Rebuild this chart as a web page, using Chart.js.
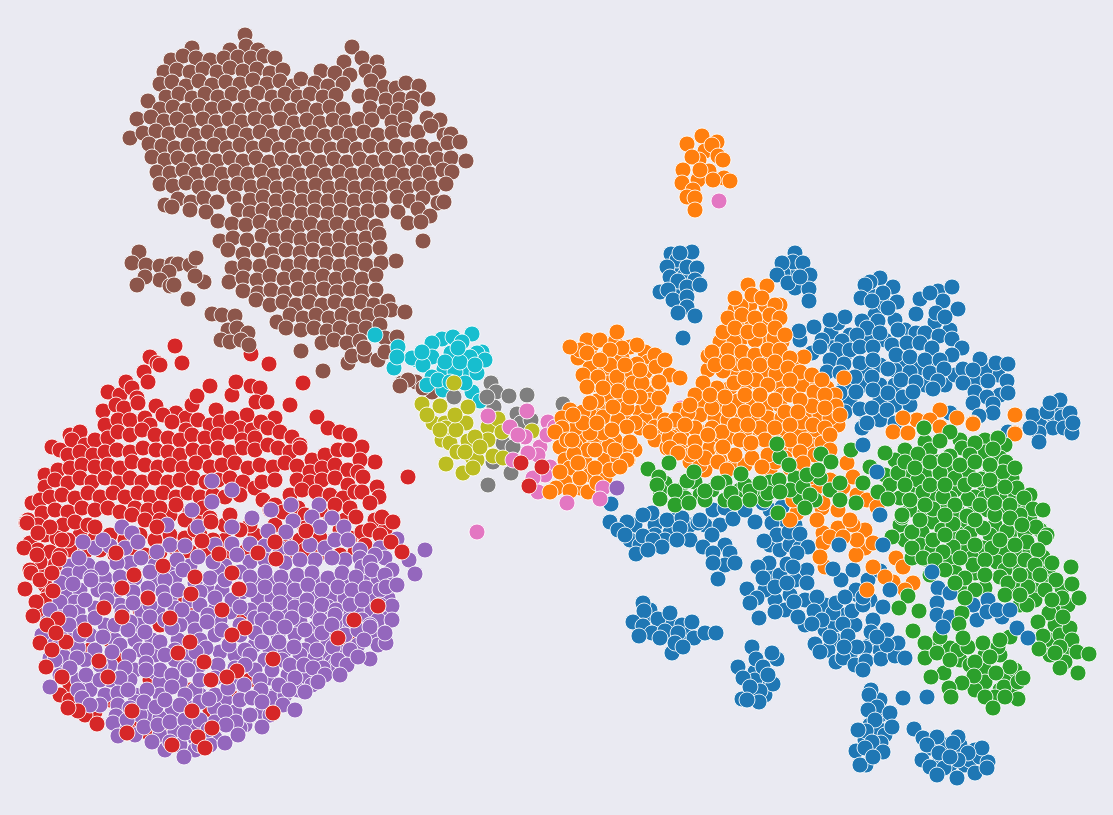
<!DOCTYPE html>
<html>
<head>
<meta charset="utf-8">
<title>Embedding scatter</title>
<script src="https://cdn.jsdelivr.net/npm/chart.js@4"></script>
<style>
html,body{margin:0;padding:0;background:#eaeaf2;overflow:hidden}
canvas{display:block}
</style>
</head>
<body>
<canvas id="chart" width="1113" height="815"></canvas>
<script>
// values, flat x,y lists
const brown = [245,35,192,48,352,47,230,50,246,46,258,50,171,60,183,56,196,58,210,60,224,58,238,57,251,58,264,56,275,58,362,58,344,62,377,62,
164,72,177,70,190,72,203,69,217,72,230,68,243,71,257,69,270,73,283,70,321,71,335,73,350,75,366,71,379,72,
160,84,172,82,186,86,199,81,212,85,226,82,240,84,253,80,267,84,280,81,293,86,301,79,315,83,328,86,343,84,371,81,384,87,396,88,406,83,419,86,
166,97,179,94,192,98,205,94,218,97,232,94,245,97,258,93,272,97,285,94,298,97,310,94,323,97,336,95,359,96,372,95,386,100,400,99,413,98,428,99,
148,101,160,109,173,107,186,110,199,106,212,109,225,107,239,110,252,106,265,109,278,106,291,110,304,107,317,110,330,107,343,109,370,108,384,112,398,110,411,107,
137,119,151,117,164,121,177,119,190,122,203,119,216,122,229,119,242,122,255,119,268,122,281,119,294,123,307,120,320,123,333,120,346,122,359,119,372,120,392,122,405,118,427,118,440,120,
130,138,143,133,156,131,169,134,182,131,195,135,208,132,221,135,234,132,247,135,260,132,273,136,286,133,299,136,312,133,325,136,338,133,351,135,364,132,378,135,392,133,405,130,418,132,431,126,444,135,451,134,
149,144,162,146,175,148,188,145,201,148,214,145,227,148,240,145,253,148,266,145,279,149,292,146,305,149,318,146,331,149,344,146,357,149,370,146,383,149,396,146,409,149,422,146,435,149,448,143,460,142,
152,157,165,160,178,158,191,161,204,158,217,161,230,158,243,161,256,158,269,162,282,159,295,162,308,159,321,162,334,159,347,162,360,159,373,162,386,159,399,162,412,159,425,162,438,159,451,158,466,161,
157,172,170,173,183,170,196,174,209,171,222,174,235,171,248,174,261,171,274,175,287,172,300,175,313,172,326,175,339,172,352,175,365,172,378,175,391,172,404,175,417,172,430,174,443,170,452,172,
160,184,173,186,186,183,199,187,212,184,225,187,238,184,251,187,264,184,277,188,290,185,303,188,316,185,329,188,342,185,355,188,368,185,381,188,394,185,407,188,420,185,433,188,446,184,
165,205,178,199,191,202,204,198,217,202,234,198,250,200,263,197,276,201,289,198,302,201,315,198,328,201,341,198,354,201,367,198,380,198,397,197,410,201,423,198,438,203,444,202,
172,207,190,210,206,212,238,210,250,213,263,210,276,214,289,211,302,214,315,211,328,214,341,211,355,214,368,211,382,211,398,212,418,209,430,216,
218,221,232,224,246,225,260,222,272,227,285,224,298,227,311,224,324,227,337,224,350,227,363,224,376,226,408,223,421,222,
220,241,233,238,247,240,262,236,275,240,288,237,301,240,314,237,327,240,340,237,353,240,366,238,379,234,423,241,
228,250,243,254,258,250,272,254,286,250,300,253,313,250,326,254,339,250,352,253,365,250,380,248,396,261,
139,252,132,263,146,265,160,266,172,264,178,264,190,265,196,258,204,282,195,276,169,272,160,280,145,277,137,285,170,286,174,285,188,299,
232,268,245,265,260,266,274,262,288,266,301,263,314,266,327,263,340,266,353,263,366,265,381,263,
229,282,243,278,257,280,270,276,284,279,297,276,310,279,323,276,336,279,349,276,362,279,376,275,
243,291,258,293,271,290,285,293,298,289,311,292,324,289,337,292,350,289,363,292,376,290,
256,300,270,305,283,302,296,305,309,302,322,305,335,302,348,305,361,302,374,305,388,301,391,310,
212,314,222,315,235,316,277,322,290,315,303,318,316,315,329,318,342,315,355,318,368,315,381,312,405,312,
228,330,237,328,248,333,286,328,301,330,314,328,327,331,340,328,353,331,366,328,380,325,
221,340,230,342,241,340,249,345,301,351,322,343,334,340,347,343,360,341,385,338,397,337,
348,363,352,356,365,356,378,360,385,352,397,357,323,371,364,348,402,383,416,382,408,380,432,392,423,388,400,386];

const redFill = [80,535,95,538,110,535,125,540,140,535,155,540,170,535,185,538,200,535,225,540,255,535,270,540,285,535,300,540,320,538,335,540,350,538,
70,550,85,552,100,550,115,555,130,550,145,555,160,552,175,548,190,552,205,550,225,555,245,552,265,558,285,555,305,550,320,553,340,555,355,552,
45,575,62,572,75,568,90,572,45,585,60,590,42,612,48,595,50,640,62,660,70,685,60,695,80,700,95,712,110,700,150,735,130,725,172,735,
100,590,115,600,140,610,175,600,190,615,215,620,240,615,260,600,300,620,340,600,360,620,372,615,365,635,345,630,320,640,160,625,110,640,90,650,75,645,120,660,150,680,190,690,230,695,210,710,250,680,
150,515,170,515,200,520,225,525,250,525,275,525,290,515,330,515,345,520,375,520,385,530];

const red = [108,392,120,395,126,382,132,388,144,372,148,382,137,398,150,357,157,363,160,365,175,346,182,363,251,354,269,364,303,383,
103,411,116,405,124,408,138,403,156,406,176,413,186,418,192,405,197,396,210,386,216,410,232,395,236,382,251,386,260,388,256,402,267,402,247,415,
70,435,80,432,105,425,118,420,130,420,145,418,150,425,163,415,172,422,186,430,198,420,210,425,220,422,232,418,240,428,252,430,275,418,261,422,290,405,
52,447,60,450,72,440,85,445,95,440,108,438,118,432,130,435,142,430,155,435,168,438,180,440,192,435,205,438,218,435,230,432,242,440,255,438,268,428,280,432,292,437,300,445,317,417,328,428,340,432,350,435,362,447,
68,455,80,452,93,455,105,452,117,450,130,452,143,448,156,450,168,452,180,455,193,450,205,452,218,448,230,452,243,448,255,450,268,445,278,448,290,452,300,448,312,460,325,455,338,450,348,450,375,462,360,460,
45,475,58,470,70,468,82,465,95,467,108,465,120,468,132,462,145,465,158,467,170,465,183,468,196,463,210,467,222,465,235,463,248,468,260,465,273,467,285,463,297,466,310,472,322,468,335,465,348,470,358,472,408,477,
32,503,45,487,55,480,68,483,80,478,92,482,105,478,118,483,130,478,142,482,155,478,168,482,180,480,193,478,206,482,218,480,230,478,243,482,255,488,262,482,275,480,297,480,310,482,322,480,335,478,348,485,363,477,377,487,
40,500,50,497,62,495,75,498,88,493,100,497,113,493,125,497,138,493,150,497,163,493,176,497,188,493,200,497,213,495,225,497,240,495,263,500,275,505,290,495,302,490,316,492,330,495,343,498,355,492,362,492,379,497,370,503,
28,520,42,513,55,510,68,512,82,508,95,510,108,508,120,512,135,508,148,510,160,508,176,505,190,512,203,508,270,510,283,512,298,508,305,515,320,510,335,505,350,508,
26,523,38,525,50,528,63,525,75,522,88,525,132,515,145,520,160,520,185,520,210,518,230,515,305,528,356,517,382,517,393,522,362,532,370,530,
30,543,45,535,57,538,68,540,195,530,213,540,240,530,340,530,365,545,380,535,
38,550,50,552,60,555,55,565,40,562,30,570,45,600,60,610,50,630,70,700,85,715,140,720,160,730,180,735,330,640,350,640,375,625,380,595];

const purpleFill = [95,548,110,546,125,548,170,545,185,546,215,545,250,544,265,546,280,548,310,545,325,548,360,550,380,548,
70,566,88,565,130,563,155,565,170,570,190,566,225,566,250,562,265,560,285,563,315,560,345,560,360,558,385,558,
68,575,80,572,105,578,135,578,158,580,175,578,195,583,218,570,240,572,258,582,272,582,290,582,303,580,318,582,335,580,350,582,365,578,378,578,
55,592,68,595,80,590,98,590,118,590,148,588,170,598,190,600,208,590,222,590,242,592,258,598,272,598,288,598,315,598,330,598,345,598,358,595,373,598,388,598,
58,615,75,602,95,608,120,605,142,612,158,612,175,608,192,618,215,610,230,612,250,610,272,610,285,612,300,602,315,612,328,607,343,612,358,612,372,610,385,612,
48,622,62,622,78,612,105,625,122,612,138,625,180,625,195,630,220,620,240,625,255,618,270,620,300,622,315,628,340,625,362,620,378,620,
52,645,70,640,90,635,115,640,135,640,152,640,178,640,200,640,215,635,240,635,260,630,278,635,295,635,312,640,328,640,350,628,372,635,378,645,
60,645,78,648,95,650,120,645,140,650,155,655,175,650,190,655,220,652,235,655,255,645,270,650,285,650,305,650,325,655,340,652,358,645,
65,665,85,660,110,665,135,670,155,672,175,660,200,665,218,665,235,668,265,660,282,660,300,655,315,658,332,662,350,658,
60,675,78,680,90,682,110,680,130,680,160,682,180,682,200,695,215,678,235,682,255,670,270,678,288,675,305,680,335,665,
90,690,105,695,135,695,160,695,195,690,225,700,245,695,275,695,298,690,312,685,
100,705,135,702,150,715,172,712,190,708,215,708,235,712,262,712,272,698,285,695,
125,730,140,715,160,718,178,725,195,728,215,722,245,725,270,715,
135,735,160,735,175,732,195,738,215,738,165,750,180,745,195,750,210,745,240,728];

const purple = [212,481,232,490,212,502,291,505,319,505,271,510,252,518,293,521,312,517,332,518,344,527,320,527,192,510,198,527,122,527,132,533,167,525,232,527,268,531,286,532,335,540,348,540,83,542,103,540,138,542,157,552,232,544,291,548,79,558,102,568,117,563,141,558,177,560,198,557,213,562,237,555,300,560,332,558,375,555,397,539,425,550,409,560,415,574,392,570,362,567,370,562,
91,577,120,577,150,572,165,580,183,570,210,578,225,580,250,577,265,572,281,577,297,575,312,573,328,578,342,573,356,577,372,570,385,575,
61,583,73,584,91,580,106,590,133,592,163,592,178,590,200,592,215,598,232,600,250,590,265,587,280,590,295,590,308,585,322,590,338,587,352,590,366,588,380,590,392,585,386,587,397,585,
60,602,85,600,107,600,133,603,150,605,165,600,182,610,200,605,240,607,265,610,280,603,295,607,307,600,322,605,336,610,350,605,362,600,380,605,392,606,
50,610,70,612,83,622,95,618,115,625,130,622,150,617,165,620,208,615,222,630,262,620,277,618,292,618,306,610,320,620,335,615,350,620,370,625,392,620,
42,635,60,632,69,625,80,635,103,637,128,630,145,632,160,642,172,628,207,622,255,633,270,628,285,627,305,630,322,633,332,625,345,635,358,630,370,627,386,643,385,633,
50,658,64,657,77,658,112,652,129,656,147,650,165,655,206,648,229,645,245,650,262,642,279,642,294,647,317,650,333,647,350,650,364,640,370,659,
55,660,70,668,86,675,100,665,125,668,146,663,160,670,185,668,196,652,250,655,272,670,290,665,304,665,323,668,338,660,347,665,358,657,
50,687,78,690,100,680,120,678,146,670,172,675,188,670,245,665,260,680,279,685,295,678,313,668,325,675,340,675,
82,698,90,705,118,693,128,690,147,690,172,687,185,695,200,680,215,695,228,688,244,685,261,690,289,690,305,692,318,682,
118,705,116,716,130,708,144,702,156,707,165,700,180,705,200,702,209,699,225,712,240,700,252,698,262,702,283,705,295,710,
113,723,127,720,144,727,158,725,170,722,185,720,200,720,236,722,250,715,262,727,226,725,
118,736,152,742,170,742,185,733,208,730,225,743,238,735,184,757,199,745];

const redTop = [95,527,116,553,157,527,211,522,202,541,219,554,275,542,306,531,391,542,402,552,258,553,276,559,163,566,134,575,195,577,232,573,239,589,122,588,148,598,191,594,104,608,122,617,222,610,378,606,354,620,245,628,232,635,85,630,190,642,66,642,178,653,338,638,99,661,204,662,273,659,237,671,227,677,211,680,108,677,46,667,62,677,78,711,68,708,97,724,127,733,172,745,198,737,205,748,212,728,273,713,132,711,192,711,170,618,
24,548,37,555,59,559,31,573,40,580,52,573,25,589,53,591,36,602,33,616,58,619,47,625,40,643,52,650,56,633,27,523,62,540,50,527,38,533];

const cyan = [472,334,442,339,453,337,462,342,482,352,398,347,375,335,394,368,432,343,451,353,432,357,417,360,412,358,423,365,444,369,468,371,432,377,477,353,485,360,472,392,480,401,427,385,455,372,477,373,470,357,465,383,443,390,397,357,422,352,445,362,460,362,458,348,438,380,450,382,475,365];

const gray = [491,383,496,392,509,396,527,395,454,397,494,407,517,414,521,423,531,420,563,404,503,453,503,443,513,447,511,473,488,485,493,462,487,397];

const olive = [454,383,422,404,440,406,468,407,433,423,445,423,446,428,466,423,488,427,498,419,532,431,468,441,442,440,450,443,472,457,493,456,446,464,463,473,477,460,488,440,427,415,456,430,475,437,457,452,480,447,473,468,503,458,502,432,455,415,440,430,465,452];

const pink = [488,416,527,411,510,427,525,437,548,422,540,447,538,455,550,467,545,475,533,478,538,492,513,460,528,453,547,435,555,427,663,377,681,408,518,435];

const redMid = [521,463,529,486,542,467];

const blueUpper = [675,270,685,275,680,295,795,270,790,275,800,340,835,345,850,335,870,340,885,340,905,330,935,322,950,330,875,315,870,295,885,305,895,320,905,365,920,368,935,365,845,355,865,370,880,365,895,370,910,372,925,385,945,385,955,375,975,380,998,375,1000,395,985,370,845,385,865,385,880,385,895,385,850,400,880,400,895,405,910,405,845,412,880,420,1055,420,1040,425,
692,252,671,254,677,260,667,267,687,267,697,268,670,277,678,281,695,280,687,287,700,285,660,292,668,290,673,300,687,297,687,307,678,313,695,316,683,338,680,253,
795,253,793,262,783,273,782,263,803,263,810,275,795,288,809,289,809,301,777,275,788,283,800,277,
799,331,814,327,831,332,838,323,845,317,830,320,842,341,822,340,812,353,820,347,880,278,870,282,865,285,893,287,883,293,861,298,872,301,897,302,888,308,862,321,878,321,920,299,938,291,952,287,943,301,930,293,916,314,936,313,958,309,945,317,898,330,916,333,925,333,939,336,952,339,962,348,867,328,857,335,880,333,
837,350,850,350,860,347,873,347,892,345,907,343,920,343,932,348,952,355,830,360,844,364,860,363,873,360,896,355,910,357,925,360,940,360,827,372,840,373,855,377,872,377,888,369,901,380,916,382,930,373,944,369,938,381,963,369,980,359,996,363,1008,364,973,370,988,381,1007,381,963,383,975,392,1008,393,987,397,973,403,993,404,993,413,979,416,
840,393,856,392,873,390,888,393,903,397,913,392,933,389,860,409,872,408,887,410,895,423,866,423,862,428,950,413,
1033,415,1057,407,1047,412,1062,417,1070,413,1053,428,1064,428,1072,433,1039,433,1039,442,1030,428,1073,423,1060,400,1050,403,1008,432];

const orangeFill = [592,345,615,342,630,347,645,352,578,358,593,358,605,358,622,358,648,362,662,365,590,368,605,372,628,372,645,372,670,375,592,385,608,383,625,385,650,390,662,390,610,397,622,400,650,400,570,410,600,408,615,413,640,412,655,412,570,420,590,415,610,425,625,420,645,420,570,435,580,438,595,440,615,440,640,428,660,432,672,428,560,447,575,445,600,450,635,450,565,460,585,462,605,460,618,458,570,468,590,475,605,478,565,482,580,488,
735,310,750,305,780,305,740,322,752,325,762,322,775,322,742,338,765,338,782,342,720,342,735,355,748,360,770,358,782,358,795,365,708,370,735,372,750,372,765,372,782,372,795,382,805,375,815,385,827,388,712,398,730,388,745,385,760,385,778,385,782,395,812,398,835,395,705,405,720,405,735,410,752,402,768,405,780,405,810,412,820,415,838,425,680,410,700,415,715,418,728,420,742,418,755,418,768,418,782,418,795,420,670,428,682,432,700,432,712,428,735,432,745,432,760,435,772,435,785,432,800,432,815,432,655,440,668,445,690,448,700,450,715,440,728,438,750,445,785,450,795,448,812,445,825,455,705,470,690,462,735,465,745,465,770,470,775,462,790,468,700,465];

const orange = [702,136,687,144,717,142,705,151,712,145,699,160,718,156,692,157,723,160,683,170,709,171,698,180,682,183,724,178,730,181,693,190,687,197,695,198,695,210,713,180,700,170,
617,332,587,340,600,340,580,350,587,353,637,345,622,348,610,350,655,355,637,364,656,367,610,365,583,375,598,377,617,377,633,383,658,382,618,391,642,383,597,401,583,412,627,408,648,406,659,398,562,418,576,428,562,428,555,432,603,417,618,420,635,423,655,427,665,420,567,440,588,450,574,454,609,446,625,450,628,460,560,472,580,478,595,468,556,488,570,491,588,492,550,492,610,470,597,483,578,463,603,433,590,433,583,423,597,423,573,415,590,403,627,427,613,407,640,397,630,397,603,388,587,387,570,347,667,448,672,437,665,360,600,360,625,365,640,370,615,450,595,450,572,440,612,430,
748,285,767,286,741,306,766,306,766,322,734,342,755,340,774,338,723,332,708,356,721,355,737,364,723,371,804,357,776,374,756,380,734,383,717,388,703,383,680,378,659,382,844,378,802,385,814,392,738,401,712,408,775,400,812,406,836,406,688,413,675,420,830,418,802,422,760,428,813,425,722,432,708,435,729,410,669,438,752,443,822,443,893,432,908,433,957,418,973,423,940,410,917,420,930,420,903,418,940,427,1015,415,1015,433,
735,298,752,295,762,298,775,305,728,318,742,315,755,318,770,315,780,318,735,328,748,332,760,330,775,328,785,335,712,352,728,350,742,352,755,355,768,350,780,350,790,358,715,365,728,362,745,365,760,365,775,362,788,368,800,372,812,375,822,380,745,378,768,385,790,380,695,395,710,395,725,397,745,395,760,395,790,395,800,400,825,395,745,412,758,410,785,412,798,412,825,408,690,405,695,428,685,425,735,425,748,425,775,428,790,425,825,428,840,415,650,432,665,425,680,440,695,442,710,448,722,448,740,440,765,440,778,443,790,440,805,440,830,435,680,452,690,455,705,458,720,460,735,455,752,458,768,455,785,458,800,452,815,455,830,450,
670,448,630,442,627,460,620,467,718,462,762,467,708,435,751,443,723,447,695,452,678,453,727,470,924,428,973,424,1015,434];

const blueLowerFill = [635,525,655,525,675,520,690,525,655,535,670,533,665,540,630,540,640,545,705,525,720,525,725,545,770,510,785,520,795,525,770,545,780,550,790,545,800,548,770,575,780,575,795,580,775,600,765,590,790,595,805,600,785,610,805,625,825,605,845,615,855,625,835,640,850,655,870,645,880,650,825,630,835,625,858,595,870,600,650,610,660,625,650,625,670,625,682,625,672,635,685,635,645,620,755,672,762,680,750,695,765,695,755,680,880,700,880,715,870,725,880,730,865,740,875,750,885,735,930,748,945,745,940,760,950,765,965,765,960,745,970,760,975,750];

const blueLower = [611,504,610,522,627,522,652,513,643,515,667,520,682,518,698,523,680,528,618,530,625,535,643,536,653,540,690,540,712,535,677,540,662,547,636,554,648,550,703,547,713,553,730,553,725,565,735,563,718,579,713,563,700,520,
713,510,725,508,733,519,745,510,763,503,755,522,782,507,772,523,777,535,764,541,789,532,800,534,808,547,787,564,769,563,758,567,763,578,747,589,757,598,775,587,787,583,807,570,797,553,793,567,807,583,817,597,794,602,775,612,759,618,750,603,798,617,814,611,833,613,836,603,852,611,863,605,873,620,887,630,883,607,822,620,812,624,843,624,848,636,871,632,865,648,841,580,856,590,868,580,880,571,853,570,845,597,863,597,815,644,828,650,820,652,836,662,843,658,855,665,866,661,863,670,881,659,895,656,905,658,898,643,887,645,877,637,857,647,830,637,844,647,
643,603,644,611,633,622,658,619,670,613,643,626,652,633,639,636,665,631,678,633,692,622,694,638,705,633,716,633,672,653,675,643,683,647,660,638,
752,647,756,659,777,659,772,653,763,667,738,667,773,684,743,678,760,691,742,699,759,702,750,687,747,700,768,675,
871,690,869,695,903,698,927,697,877,707,868,710,890,713,875,720,892,727,866,731,858,730,881,743,872,742,856,751,865,748,883,752,866,765,860,765,873,757,
914,729,923,738,937,737,958,737,953,743,927,745,939,753,922,760,930,767,944,768,957,778,937,775,975,773,980,757,988,762,982,748,968,753,958,760,950,757,987,768];

const orangeLower = [822,508,838,528,865,530,865,548,856,555,823,533,823,543,825,567,896,558,893,582,913,583,903,567,885,577,867,590,873,567,853,525,797,513,790,520,793,500,800,477,817,487,830,480,847,463,857,495,867,500,877,507,837,493,843,487,810,477,823,503,803,463,853,477,838,510,850,520,873,543,820,557,817,520,830,537,857,540,843,537,905,590];

const greenFill = [925,442,960,440,985,440,1005,445,905,450,930,450,962,448,985,452,1000,458,895,460,918,465,938,462,885,475,910,475,925,475,950,470,968,472,990,472,1012,478,890,485,918,490,938,487,955,490,985,488,998,482,1012,495,900,498,918,500,932,498,950,498,975,497,985,498,1000,497,1030,495,910,510,925,512,945,508,958,512,975,510,988,510,1003,512,1015,508,1028,510,900,525,932,522,963,525,975,528,995,525,1018,525,1030,520,905,540,922,532,942,530,957,533,970,533,990,535,1010,533,1025,533,1040,530,920,545,932,550,965,550,983,548,1003,550,1020,550,1030,552,912,558,950,560,972,558,997,562,1018,565,1040,560,930,575,955,572,975,573,1005,570,1030,575,1048,570,960,590,985,588,1015,585,1035,590,1050,582,1062,588,1020,605,1035,600,1055,610,1068,605,
665,483,680,490,695,482,700,495,712,490,725,482,740,490,755,490,770,482,660,490,685,498,705,500,725,500,745,485,765,500,795,478,820,478,830,490,815,500,800,498,790,490,
935,645,950,648,960,660,985,655,1000,655,970,665,985,670,1005,675,1015,670,985,682,1000,690,1010,690,975,690,1050,640,1065,635,1055,625,1060,635,1070,650,1050,655];

const green = [648,469,669,463,659,477,657,485,660,499,675,491,675,505,689,503,687,481,694,472,705,491,718,483,731,493,735,503,750,491,741,474,750,500,768,493,779,480,780,457,777,444,789,465,778,513,803,487,807,475,810,495,805,508,780,492,760,483,821,454,831,462,840,483,818,470,851,450,840,500,856,503,870,467,863,483,878,492,888,499,902,517,892,537,912,548,925,559,955,583,965,598,908,596,899,608,919,611,913,631,
924,428,950,432,998,438,975,443,940,441,993,449,918,454,950,456,970,455,1006,462,885,453,898,473,905,462,940,473,955,478,981,479,1003,472,1015,468,918,480,992,492,1017,488,1024,498,1033,509,1043,510,968,499,943,497,923,492,910,500,902,515,933,509,967,516,995,515,1020,515,1036,527,1047,535,1045,538,1043,557,1052,563,1071,567,953,524,983,528,1007,531,912,532,933,540,963,537,953,547,992,548,1027,542,1038,550,923,558,943,552,973,565,1000,577,1008,583,1028,587,1056,580,1072,584,1062,598,1079,598,1027,605,1049,613,1038,622,1070,628,1063,617,1072,640,1043,636,1039,649,1060,647,1077,652,1089,654,1065,662,1060,668,1078,673,1055,653,
925,643,940,637,925,658,944,673,931,677,958,650,968,647,983,643,998,647,1010,637,975,662,990,657,1010,667,974,676,996,673,962,683,949,688,951,697,1004,687,1018,682,1018,699,995,697,985,697,993,708,1005,697,1023,678,937,653,950,660,
915,468,930,462,945,460,960,465,975,462,990,465,905,485,930,485,945,485,965,485,975,480,990,480,1005,487,925,505,955,505,980,505,995,503,1010,505,920,520,945,515,975,520,1010,518,1022,525,945,535,975,545,1000,540,1015,545,935,560,960,558,985,560,1010,560,1025,560,1035,565,945,570,965,578,985,575,1020,575,1040,575,975,590,1005,595,1020,595,1045,590,1052,600];

const bluePocket = [839,545,833,569,863,445,880,515,883,545,877,472,867,423,890,590,932,572,938,588,950,593,937,603,937,615,950,617,977,620,973,605,988,600,987,612,1002,617,997,610,1010,610,1017,628,1028,638,943,627];

const greenTop = [962,613,959,624,963,638,965,598,955,583,1000,640];

const stray = [719,201,603,488,600,499,567,503,477,532];
const strayPurple = [617,488];

const BLUE = '#1f77b4', ORANGE = '#ff7f0e', GREEN = '#2ca02c', RED = '#d62728', PURPLE = '#9467bd',
      BROWN = '#8c564b', PINK = '#e377c2', GRAY = '#7f7f7f', OLIVE = '#bcbd22', CYAN = '#17becf';

// bottom to top
const layers = [
    [redFill, RED], [red, RED], [purpleFill, PURPLE], [purple, PURPLE], [redTop, RED],
    [brown, BROWN], [cyan, CYAN], [gray, GRAY], [olive, OLIVE], [pink, PINK], [redMid, RED],
    [blueUpper, BLUE], [orangeFill, ORANGE], [orange, ORANGE], [blueLowerFill, BLUE], [blueLower, BLUE], [orangeLower, ORANGE],
    [greenFill, GREEN], [green, GREEN],
    [bluePocket, BLUE], [greenTop, GREEN], [stray, PINK], [strayPurple, PURPLE]
];

function toXY(list) {
    const out = [];
    for (let i = 0; i < list.length; i += 2) out.push({x: list[i], y: list[i + 1]});
    return out;
}

new Chart(document.getElementById('chart'), {
    type: 'scatter',
    data: {
        datasets: layers.map((l, i) => ({
            data: toXY(l[0]),
            backgroundColor: l[1],
            borderColor: 'rgba(255,255,255,0.85)',
            borderWidth: 1,
            pointRadius: 8,
            pointHoverRadius: 8,
            order: layers.length - i
        }))
    },
    options: {
        responsive: false,
        animation: false,
        events: [],
        layout: {padding: 0, autoPadding: false},
        plugins: {legend: {display: false}, tooltip: {enabled: false}},
        scales: {
            x: {type: 'linear', min: 0, max: 1113, display: false},
            y: {type: 'linear', min: 0, max: 815, reverse: true, display: false}
        }
    }
});
</script>
</body>
</html>
